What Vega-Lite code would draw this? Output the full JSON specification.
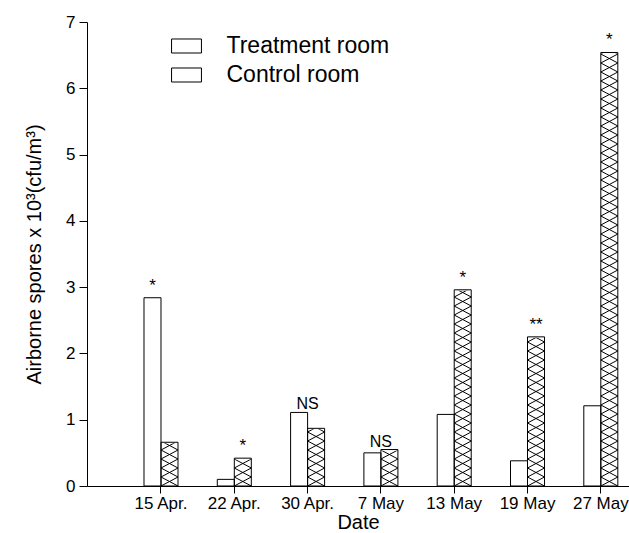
{
  "$schema": "https://vega.github.io/schema/vega-lite/v6.json",
  "width": 542,
  "height": 464,
  "autosize": "none",
  "padding": {"left": 87, "top": 22, "right": 0, "bottom": 47},
  "background": "white",
  "config": {
    "view": {"stroke": null},
    "font": "Liberation Sans",
    "axis": {
      "domainColor": "black",
      "tickColor": "black",
      "labelColor": "black",
      "titleColor": "black",
      "labelFont": "Liberation Sans",
      "titleFont": "Liberation Sans",
      "titleFontWeight": "normal",
      "grid": false,
      "labelFontSize": 17,
      "titleFontSize": 20
    },
    "legend": {
      "labelFont": "Liberation Sans",
      "labelColor": "black"
    },
    "text": {"font": "Liberation Sans", "color": "black"}
  },
  "datasets": {
    "bars": [
      {"date": "15 Apr.", "room": "Treatment room", "value": 2.84},
      {"date": "15 Apr.", "room": "Control room", "value": 0.66},
      {"date": "22 Apr.", "room": "Treatment room", "value": 0.10},
      {"date": "22 Apr.", "room": "Control room", "value": 0.42},
      {"date": "30 Apr.", "room": "Treatment room", "value": 1.11},
      {"date": "30 Apr.", "room": "Control room", "value": 0.87},
      {"date": "7 May", "room": "Treatment room", "value": 0.50},
      {"date": "7 May", "room": "Control room", "value": 0.55},
      {"date": "13 May", "room": "Treatment room", "value": 1.08},
      {"date": "13 May", "room": "Control room", "value": 2.96},
      {"date": "19 May", "room": "Treatment room", "value": 0.38},
      {"date": "19 May", "room": "Control room", "value": 2.25},
      {"date": "27 May", "room": "Treatment room", "value": 1.21},
      {"date": "27 May", "room": "Control room", "value": 6.54}
    ],
    "notes": [
      {"date": "15 Apr.", "room": "Treatment room", "label": "*", "top": 2.84, "kind": "star"},
      {"date": "22 Apr.", "room": "Control room", "label": "*", "top": 0.42, "kind": "star"},
      {"date": "30 Apr.", "room": "Treatment room", "label": "NS", "top": 1.11, "kind": "ns"},
      {"date": "7 May", "room": "Control room", "label": "NS", "top": 0.55, "kind": "ns"},
      {"date": "13 May", "room": "Control room", "label": "*", "top": 2.96, "kind": "star"},
      {"date": "19 May", "room": "Control room", "label": "**", "top": 2.25, "kind": "star"},
      {"date": "27 May", "room": "Control room", "label": "*", "top": 6.54, "kind": "star"}
    ]
  },
  "layer": [
    {
      "data": {"name": "bars"},
      "transform": [{"filter": "datum.room === 'Control room'"}],
      "mark": {
        "type": "point",
        "shape": "M-8.5,0l17,-9l-17,-9l17,-9l-17,-9l17,-9l-17,-9l17,-9l-17,-9l17,-9l-17,-9l17,-9l-17,-9l17,-9l-17,-9l17,-9l-17,-9l17,-9l-17,-9l17,-9l-17,-9l17,-9l-17,-9l17,-9l-17,-9l17,-9l-17,-9l17,-9l-17,-9l17,-9l-17,-9l17,-9l-17,-9l17,-9l-17,-9l17,-9l-17,-9l17,-9l-17,-9l17,-9l-17,-9l17,-9l-17,-9l17,-9l-17,-9l17,-9l-17,-9l17,-9l-17,-9l17,-9M8.5,0l-17,-9l17,-9l-17,-9l17,-9l-17,-9l17,-9l-17,-9l17,-9l-17,-9l17,-9l-17,-9l17,-9l-17,-9l17,-9l-17,-9l17,-9l-17,-9l17,-9l-17,-9l17,-9l-17,-9l17,-9l-17,-9l17,-9l-17,-9l17,-9l-17,-9l17,-9l-17,-9l17,-9l-17,-9l17,-9l-17,-9l17,-9l-17,-9l17,-9l-17,-9l17,-9l-17,-9l17,-9l-17,-9l17,-9l-17,-9l17,-9l-17,-9l17,-9l-17,-9l17,-9l-17,-9",
        "size": 4,
        "filled": false,
        "stroke": "black",
        "strokeWidth": 1,
        "opacity": 1
      },
      "encoding": {
        "x": {
          "field": "date",
          "type": "nominal",
          "sort": null,
          "scale": {
            "domain": ["15 Apr.", "22 Apr.", "30 Apr.", "7 May", "13 May", "19 May", "27 May"],
            "paddingInner": 0.536,
            "paddingOuter": 0.465,
            "align": 0.836
          },
          "axis": {
            "title": "Date",
            "labelAngle": 0,
            "tickSize": 7,
            "labelPadding": 2,
            "titleFontSize": 20,
            "titlePadding": 1
          }
        },
        "xOffset": {
          "field": "room",
          "type": "nominal",
          "scale": {"domain": ["Treatment room", "Control room"], "paddingInner": 0, "paddingOuter": 0}
        },
        "y": {
          "datum": 0,
          "type": "quantitative",
          "title": "Airborne spores x 10³(cfu/m³)",
          "scale": {"domain": [0, 7], "nice": false},
          "axis": {
            "title": "Airborne spores x 10³(cfu/m³)",
            "values": [0, 0.5, 1, 1.5, 2, 2.5, 3, 3.5, 4, 4.5, 5, 5.5, 6, 6.5, 7],
            "labelExpr": "datum.value % 1 === 0 ? format(datum.value, 'd') : ''",
            "tickSize": {"condition": {"test": "datum.value % 1 !== 0", "value": 4}, "value": 8},
            "labelPadding": 4,
            "titlePadding": 21
          }
        }
      }
    },
    {
      "data": {"name": "bars"},
      "transform": [{"filter": "datum.room === 'Control room'"}],
      "mark": {"type": "bar", "fill": "white", "stroke": "white", "strokeWidth": 2},
      "encoding": {
        "x": {"field": "date", "type": "nominal", "sort": null},
        "xOffset": {"field": "room", "type": "nominal"},
        "y": {"field": "value", "type": "quantitative", "title": "Airborne spores x 10³(cfu/m³)"},
        "y2": {"datum": 7}
      }
    },
    {
      "data": {"name": "bars"},
      "mark": {"type": "bar", "stroke": "black", "strokeWidth": 1, "opacity": 1},
      "encoding": {
        "x": {"field": "date", "type": "nominal", "sort": null},
        "xOffset": {"field": "room", "type": "nominal"},
        "y": {"field": "value", "type": "quantitative", "title": "Airborne spores x 10³(cfu/m³)"},
        "fill": {
          "field": "room",
          "type": "nominal",
          "scale": {"domain": ["Treatment room", "Control room"], "range": ["white", "transparent"]},
          "legend": {
            "title": null,
            "orient": "none",
            "legendX": 87.5,
            "legendY": 12,
            "padding": 0,
            "rowPadding": 5,
            "symbolSize": 529,
            "symbolStrokeColor": "black",
            "symbolStrokeWidth": 1,
            "symbolOpacity": 1,
            "labelFontSize": 23,
            "labelOffset": 28,
            "labelLimit": 0,
            "encode": {
              "symbols": {
                "update": {
                  "shape": {
                    "condition": {
                      "test": "indexof('' + datum.label, 'Control') >= 0 || indexof('' + datum.value, 'Control') >= 0",
                      "value": "M-1.3,-0.61h2.6v1.22h-2.6zM-1.3,-0.61l0.867,1.22l0.867,-1.22l0.866,1.22M-1.3,0.61l0.867,-1.22l0.867,1.22l0.866,-1.22"
                    },
                    "value": "M-1.3,-0.61h2.6v1.22h-2.6z"
                  }
                }
              }
            }
          }
        }
      }
    },
    {
      "data": {"name": "notes"},
      "transform": [{"filter": "datum.kind === 'star'"}],
      "mark": {"type": "text", "fontSize": 17, "baseline": "alphabetic", "align": "center", "dy": -7},
      "encoding": {
        "x": {"field": "date", "type": "nominal", "sort": null},
        "xOffset": {"field": "room", "type": "nominal"},
        "y": {"field": "top", "type": "quantitative", "title": "Airborne spores x 10³(cfu/m³)"},
        "text": {"field": "label"}
      }
    },
    {
      "data": {"name": "notes"},
      "transform": [{"filter": "datum.kind === 'ns'"}],
      "mark": {"type": "text", "fontSize": 16, "baseline": "alphabetic", "align": "center", "dy": -3},
      "encoding": {
        "x": {"field": "date", "type": "nominal", "sort": null},
        "y": {"field": "top", "type": "quantitative", "title": "Airborne spores x 10³(cfu/m³)"},
        "text": {"field": "label"}
      }
    }
  ]
}
